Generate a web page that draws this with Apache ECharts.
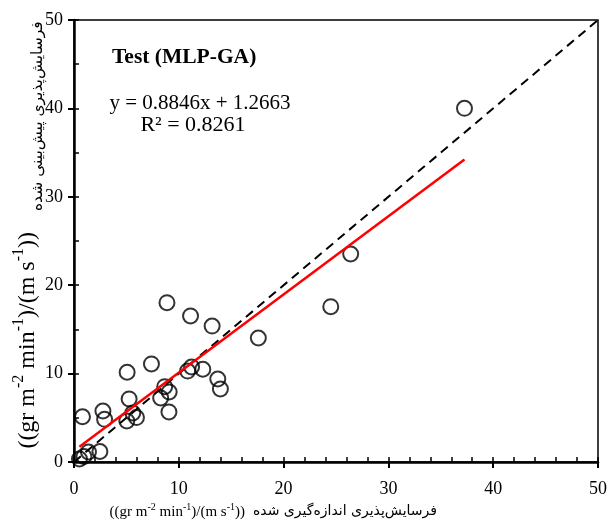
<!DOCTYPE html>
<html><head><meta charset="utf-8">
<script src="https://cdn.jsdelivr.net/npm/echarts@6/dist/echarts.min.js"></script>
<style>html,body{margin:0;padding:0;background:#fff}#c{width:610px;height:527px}</style>
</head><body><div id="c"></div>
<script>
// Observed (measured) erodibility values
const measured = [0.81,0.52,0.95,1.38,2.47,2.76,2.92,5.07,5.26,5.04,5.61,5.96,7.39,8.87,8.27,8.65,9.08,9.06,11.12,10.84,11.22,12.29,13.18,13.72,13.97,17.59,24.50,26.40,37.26];
// Predicted erodibility values
const predicted = [5.12,0.34,0.62,1.13,1.19,5.77,4.83,10.15,7.13,4.64,5.54,5.03,11.09,18.02,7.24,8.52,7.92,5.66,16.52,10.29,10.75,10.49,15.38,9.39,8.26,14.03,17.57,23.53,40.01];
const slope = 0.8846, intercept = 1.2663;
const axisTicks = [0,10,20,30,40,50];
const titleText = 'Test (MLP-GA)';
const eqText = 'y = 0.8846x + 1.2663';
const r2Text = 'R² = 0.8261';
const xTitleFa = 'فرسایش‌پذیری اندازه‌گیری شده';
const yTitleFa = 'فرسایش‌پذیری پیش‌بینی شده';

const pts = measured.map((x,i)=>[x,predicted[i]]);
const xmin = Math.min(...measured), xmax = Math.max(...measured);
const regLine = [[xmin, slope*xmin+intercept],[xmax, slope*xmax+intercept]];
const diag = [[axisTicks[0],axisTicks[0]],[axisTicks[axisTicks.length-1],axisTicks[axisTicks.length-1]]];

const serif = "'Liberation Serif','Times New Roman',serif";
const faFont = "'DejaVu Sans','Noto Sans',sans-serif";
const unitRich = (fs)=>({
  n:{fontFamily:serif,fontSize:fs,fill:'#000',color:'#000',verticalAlign:'bottom',lineHeight:fs*1.2},
  s:{fontFamily:serif,fontSize:Math.round(fs*0.65),fill:'#000',color:'#000',verticalAlign:'top',lineHeight:fs*1.2}
});
const unitStr = '{n|((gr m}{s|-2}{n| min}{s|-1}{n|)/(m s}{s|-1}{n|))}';

const chart = echarts.init(document.getElementById('c'),null,{renderer:'canvas'});
const mkAxis = (extra)=>Object.assign({type:'value',min:0,max:50,splitLine:{show:false}},extra);
chart.setOption({
  animation:false,
  backgroundColor:'#fff',
  grid:{left:74,right:10,top:20,bottom:65,show:true,borderColor:'#000',borderWidth:1.5,backgroundColor:'transparent'},
  xAxis:[
    mkAxis({interval:10,axisLine:{lineStyle:{color:'#000',width:2.5}},axisTick:{length:6,lineStyle:{color:'#000',width:2}},
      axisLabel:{color:'#000',fontFamily:serif,fontSize:18,margin:18}}),
    mkAxis({interval:2,position:'bottom',axisLine:{show:false},axisLabel:{show:false},axisTick:{inside:true,length:5,lineStyle:{color:'#000',width:1.5}}})
  ],
  yAxis:[
    mkAxis({interval:10,axisLine:{lineStyle:{color:'#000',width:2.5}},axisTick:{length:6,lineStyle:{color:'#000',width:2}},
      axisLabel:{color:'#000',fontFamily:serif,fontSize:18,margin:11}}),
    mkAxis({interval:5,position:'left',axisLine:{show:false},axisLabel:{show:false},axisTick:{inside:true,length:5,lineStyle:{color:'#000',width:1.5}}})
  ],
  series:[
    {type:'line',data:diag,symbol:'none',lineStyle:{color:'#000',width:2,type:[9,6]},z:2},
    {type:'scatter',data:pts,symbol:'circle',symbolSize:15,itemStyle:{color:'rgba(0,0,0,0)',borderColor:'#000',borderWidth:2},z:3},
    {type:'line',data:regLine,symbol:'none',lineStyle:{color:'#f00',width:2.5},z:4}
  ],
  graphic:[
    {type:'text',x:112,y:57,style:{text:titleText,font:"bold 21.5px "+serif,fill:'#000',align:'left',verticalAlign:'middle'}},
    {type:'text',x:200,y:103,style:{text:eqText,font:"21px "+serif,fill:'#000',align:'center',verticalAlign:'middle'}},
    {type:'text',x:193,y:125,style:{text:r2Text,font:"22px "+serif,fill:'#000',align:'center',verticalAlign:'middle'}},
    {type:'text',x:245,y:511,style:{text:unitStr,rich:unitRich(15),align:'right',verticalAlign:'middle'}},
    {type:'text',x:253,y:511,style:{text:xTitleFa,font:"14px "+faFont,fill:'#000',align:'left',verticalAlign:'middle'}},
    {type:'group',x:30,y:225,rotation:Math.PI/2,children:[
      {type:'text',x:-7,y:-5,style:{text:unitStr,rich:unitRich(24),align:'right',verticalAlign:'middle'}},
      {type:'text',x:14,y:8,style:{text:yTitleFa,font:"15.5px "+faFont,fill:'#000',align:'left',verticalAlign:'middle'}}
    ]}
  ]
});
</script></body></html>
